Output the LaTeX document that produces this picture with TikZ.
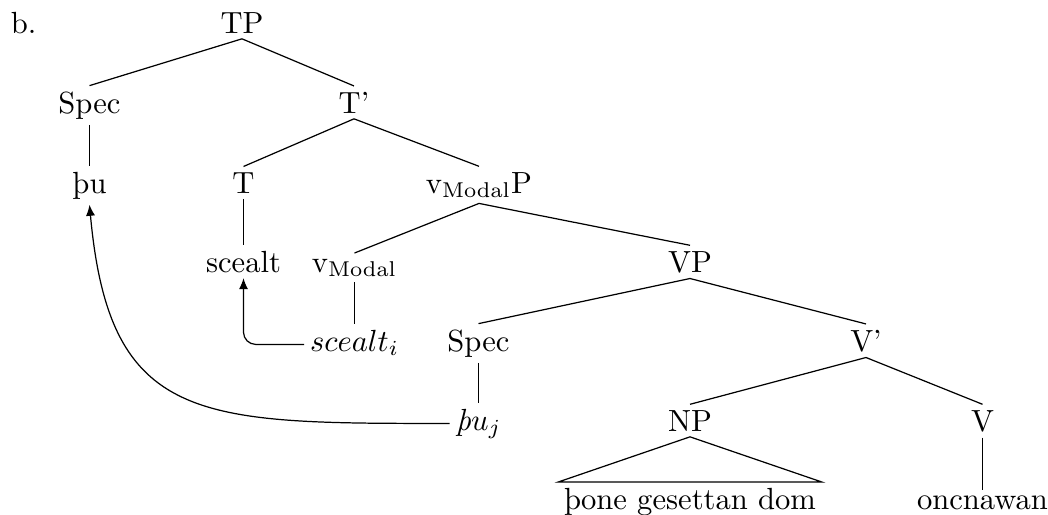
\documentclass[tikz,border=0pt]{standalone}
\usetikzlibrary{arrows.meta}
\begin{document}
\begin{tikzpicture}[x=0.3268pt,y=-0.3268pt,every node/.style={anchor=base,inner sep=1.7pt}]
\useasboundingbox (0,0) rectangle (1048,514);
\node[anchor=base west] (b) at (5,33) {b.};
\node (1) at (242,33) {TP};
\node (2) at (89.5,113) {Spec};
\node (3) at (354,113) {T'};
\node (4) at (89.5,193) {þu};
\node (5) at (243.5,193) {T};
\node (6) at (479,193) {$\mathrm{v}_{\mathrm{Modal}}$P};
\node (7) at (243.5,272) {scealt};
\node (8) at (354.5,272) {$\mathrm{v}_{\mathrm{Modal}}$};
\node (9) at (690,272) {VP};
\node (10) at (354.5,351) {$scealt_i$};
\node (11) at (478.5,351) {Spec};
\node (12) at (866,351) {V'};
\node (13) at (478.5,430) {\textit{þ}$u_j$};
\node (14) at (690,431) {NP};
\node (15) at (982.5,431) {V};
\node (16) at (690,509) {þone gesettan dom};
\node (17) at (982.5,509) {oncnawan};
\path[draw,-] (1.south) -- (2.north);
\path[draw,-] (1.south) -- (3.north);
\path[draw,-] (2.south) -- (4.north);
\path[draw,-] (3.south) -- (5.north);
\path[draw,-] (3.south) -- (6.north);
\path[draw,-] (5.south) -- (7.north);
\path[draw,-] (6.south) -- (8.north);
\path[draw,-] (6.south) -- (9.north);
\path[draw,-] (8.south) -- (10.north);
\path[draw,-] (9.south) -- (11.north);
\path[draw,-] (9.south) -- (12.north);
\path[draw,-] (11.south) -- (13.north);
\path[draw,-] (12.south) -- (14.north);
\path[draw,-] (12.south) -- (15.north);
\path[draw,-] (15.south) -- (17.north);
\path[draw] (14.south) -- (16.north west) -- (16.north east) -- cycle;

\path[draw,-{Latex[length=3.6pt,width=3pt]},rounded corners=4pt] (10.mid west) -| (7.south);
\path[draw,-{Latex[length=3.6pt,width=3pt]}] (13.mid west) .. controls +(-250,0) and +(20,220) .. (4.south);
\end{tikzpicture}
\end{document}
